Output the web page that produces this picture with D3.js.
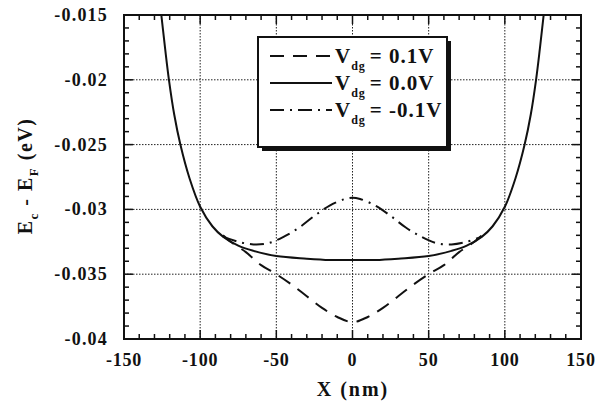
<!DOCTYPE html>
<html>
<head>
<meta charset="utf-8">
<title>Ec - Ef vs X</title>
<script src="https://cdn.jsdelivr.net/npm/d3@7"></script>
<style>
  body { margin: 0; background: #fff; }
  text { font-family: "Liberation Serif", "Times New Roman", serif; font-weight: bold; fill: #111; }
</style>
</head>
<body>
<svg id="mainsvg" width="607" height="406"></svg>
<script>
// data
const xTicks = [-150, -100, -50, 0, 50, 100, 150];
const yTicks = [-0.04, -0.035, -0.03, -0.025, -0.02, -0.015];

// Vdg = 0.0V (solid)
const solidX = [-128, -125.5, -123, -120.5, -117, -113, -107, -100, -92, -85, -75, -65, -50, -30, -15, 0, 15, 30, 50, 65, 75, 85, 92, 100, 107, 113, 117, 120.5, 123, 125.5, 128];
const solidY = [-0.0125, -0.015, -0.0176, -0.02, -0.0227, -0.025, -0.0276, -0.0298, -0.0313, -0.0321, -0.0328, -0.0332, -0.0336, -0.0338, -0.0339, -0.0339, -0.0339, -0.0338, -0.0336, -0.0332, -0.0328, -0.0321, -0.0313, -0.0298, -0.0276, -0.025, -0.0227, -0.02, -0.0176, -0.015, -0.0125];

// Vdg = 0.1V (dashed)
const dashX = [-85, -80, -70, -60, -50, -40, -30, -20, -10, 0, 10, 20, 30, 40, 50, 60, 70, 80, 85];
const dashY = [-0.0320, -0.0325, -0.0333, -0.0343, -0.0350, -0.0358, -0.0367, -0.0376, -0.0383, -0.0387, -0.0383, -0.0376, -0.0367, -0.0358, -0.0350, -0.0343, -0.0333, -0.0325, -0.0320];

// Vdg = -0.1V (dash-dot)
const ddX = [-85, -75, -65, -55, -45, -35, -25, -15, -5, 0, 5, 15, 25, 35, 45, 55, 65, 75, 85];
const ddY = [-0.0321, -0.0325, -0.0327, -0.0326, -0.0321, -0.0314, -0.0305, -0.0297, -0.0292, -0.0291, -0.0292, -0.0297, -0.0305, -0.0314, -0.0321, -0.0326, -0.0327, -0.0325, -0.0321];

const legendLabels = ["= 0.1V", "= 0.0V", "= -0.1V"];
const dashStyles = ["14,9", null, "14,6,2,6"];

const svg = d3.select("#mainsvg");
svg.append("rect").attr("width", 607).attr("height", 406).attr("fill", "#fff");

const pL = 124, pR = 581, pT = 15, pB = 339;
const x = d3.scaleLinear().domain([-150, 150]).range([pL, pR]);
const y = d3.scaleLinear().domain([-0.04, -0.015]).range([pB, pT]);

// dotted grid
const grid = svg.append("g").attr("stroke", "#222").attr("stroke-width", 1).attr("stroke-dasharray", "1.5,1.5");
grid.selectAll(".gx").data(xTicks.slice(1, -1)).join("line")
  .attr("x1", d => x(d)).attr("x2", d => x(d)).attr("y1", pT).attr("y2", pB);
grid.selectAll(".gy").data(yTicks.slice(1, -1)).join("line")
  .attr("y1", d => y(d)).attr("y2", d => y(d)).attr("x1", pL).attr("x2", pR);

// inward ticks on all four sides
const xMinor = d3.range(-150, 151, 10);
const yMinor = d3.range(0, 26).map(i => -0.04 + i * 0.001);
const tk = svg.append("g").attr("stroke", "#111").attr("stroke-width", 1.5);
const isMajX = d => xTicks.includes(d);
const isMajY = d => yTicks.some(t => Math.abs(t - d) < 1e-9);
tk.selectAll(".tb").data(xMinor).join("line")
  .attr("x1", d => x(d)).attr("x2", d => x(d)).attr("y1", pB).attr("y2", d => pB - (isMajX(d) ? 9 : 5));
tk.selectAll(".tt").data(xMinor).join("line")
  .attr("x1", d => x(d)).attr("x2", d => x(d)).attr("y1", pT).attr("y2", d => pT + (isMajX(d) ? 9 : 5));
tk.selectAll(".tl").data(yMinor).join("line")
  .attr("y1", d => y(d)).attr("y2", d => y(d)).attr("x1", pL).attr("x2", d => pL + (isMajY(d) ? 9 : 5));
tk.selectAll(".tr").data(yMinor).join("line")
  .attr("y1", d => y(d)).attr("y2", d => y(d)).attr("x1", pR).attr("x2", d => pR - (isMajY(d) ? 9 : 5));

// frame
svg.append("rect").attr("x", pL).attr("y", pT).attr("width", pR - pL).attr("height", pB - pT)
  .attr("fill", "none").attr("stroke", "#111").attr("stroke-width", 2);

// tick labels
svg.append("g").selectAll("text").data(xTicks).join("text")
  .attr("x", d => x(d)).attr("y", 366).attr("text-anchor", "middle")
  .attr("font-size", 18).attr("letter-spacing", 0.8)
  .text(d => d);
svg.append("g").selectAll("text").data(yTicks).join("text")
  .attr("x", 108).attr("y", d => y(d) + 6).attr("text-anchor", "end")
  .attr("font-size", 18).attr("letter-spacing", 1.2)
  .text(d => String(d));

// axis titles
svg.append("text").attr("x", 353).attr("y", 396).attr("text-anchor", "middle")
  .attr("font-size", 20).attr("letter-spacing", 2).text("X (nm)");
const yl = svg.append("text").attr("transform", "translate(32,176) rotate(-90)")
  .attr("text-anchor", "middle").attr("font-size", 20).attr("letter-spacing", 1.5);
yl.append("tspan").text("E");
yl.append("tspan").attr("font-size", 13).attr("dy", 6).text("c");
yl.append("tspan").attr("dy", -6).text(" - E");
yl.append("tspan").attr("font-size", 13).attr("dy", 6).text("F");
yl.append("tspan").attr("dy", -6).text(" (eV)");

// curves
svg.append("clipPath").attr("id", "plotclip").append("rect")
  .attr("x", pL).attr("y", pT).attr("width", pR - pL).attr("height", pB - pT);
const line = d3.line().x(d => x(d[0])).y(d => y(d[1])).curve(d3.curveCatmullRom.alpha(0.5));
const curves = svg.append("g").attr("clip-path", "url(#plotclip)")
  .attr("fill", "none").attr("stroke", "#111").attr("stroke-width", 2);
curves.append("path").attr("d", line(d3.zip(solidX, solidY)));
curves.append("path").attr("stroke-dasharray", dashStyles[0]).attr("d", line(d3.zip(dashX, dashY)));
curves.append("path").attr("stroke-dasharray", dashStyles[2]).attr("d", line(d3.zip(ddX, ddY)));

// legend box with shadow
const lg = svg.append("g");
lg.append("rect").attr("x", 262).attr("y", 41).attr("width", 189).attr("height", 110).attr("fill", "#111");
lg.append("rect").attr("x", 258).attr("y", 37).attr("width", 189).attr("height", 110)
  .attr("fill", "#fff").attr("stroke", "#111").attr("stroke-width", 2);
const rowY = [56, 83, 110];
legendLabels.forEach((lab, i) => {
  const ry = rowY[i];
  lg.append("line").attr("x1", 270).attr("x2", 332).attr("y1", ry).attr("y2", ry)
    .attr("stroke", "#111").attr("stroke-width", 2).attr("stroke-dasharray", dashStyles[i]);
  const t = lg.append("text").attr("x", 335).attr("y", ry + 7).attr("font-size", 21).attr("letter-spacing", 1);
  t.append("tspan").text("V");
  t.append("tspan").attr("font-size", 12).attr("dy", 7).text("dg");
  t.append("tspan").attr("dy", -7).attr("dx", 4).text(lab);
});
</script>
</body>
</html>
